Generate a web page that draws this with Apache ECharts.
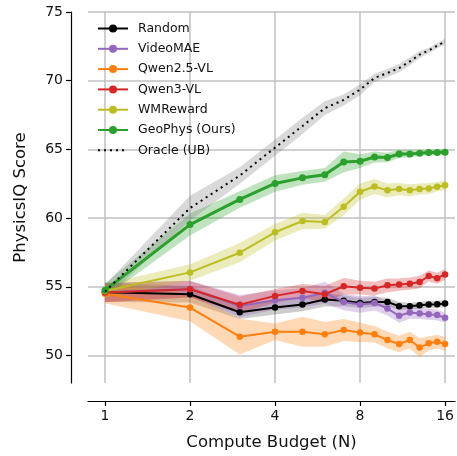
<!DOCTYPE html>
<html>
<head>
<meta charset="utf-8">
<script src="https://cdn.jsdelivr.net/npm/echarts@6/dist/echarts.min.js"></script>
<style>html,body{margin:0;padding:0;background:#fff}#c{width:457px;height:456px}</style>
</head>
<body>
<div id="c"></div>
<script>
// ---- data ----
const budgets = [1,2,3,4,5,6,7,8,9,10,11,12,13,14,15,16];
const xTicks = [1,2,4,8,16];
const yTicks = [50,55,60,65,70,75];
const seriesNames = ['Random','VideoMAE','Qwen2.5-VL','Qwen3-VL','WMReward','GeoPhys (Ours)','Oracle (UB)'];

const randomMean  = [54.6,54.46,53.15,53.49,53.72,54.07,53.98,53.83,53.9,53.9,53.59,53.59,53.66,53.71,53.73,53.78];
const randomStd   = [0.7,0.6,0.5,0.5,0.5,0.5,0.4,0.35,0.35,0.3,0.3,0.25,0.25,0.25,0.25,0.25];
const videoMean   = [54.6,54.85,53.6,54.03,54.2,54.56,53.9,53.71,53.83,53.42,52.89,53.13,53.06,53.01,52.94,52.75];
const videoStd    = [0.7,0.6,0.8,0.7,0.7,0.8,0.6,0.6,0.55,0.5,0.5,0.45,0.4,0.4,0.4,0.35];
const qwen25Mean  = [54.5,53.49,51.37,51.73,51.73,51.54,51.85,51.68,51.54,51.13,50.84,51.13,50.58,50.89,51.01,50.84];
const qwen25Std   = [0.7,1.0,1.3,0.6,1.1,0.9,0.8,0.7,0.6,0.6,0.6,0.6,0.7,0.5,0.5,0.5];
const qwen3Mean   = [54.58,54.82,53.69,54.34,54.7,54.46,55.04,54.94,54.87,55.11,55.16,55.23,55.35,55.79,55.63,55.9];
const qwen3Std    = [0.7,0.6,0.6,0.5,0.5,0.6,0.6,0.5,0.5,0.5,0.45,0.45,0.45,0.4,0.4,0.4];
const wmMean      = [54.7,56.05,57.48,58.97,59.79,59.72,60.83,61.92,62.3,62.02,62.11,62.02,62.12,62.16,62.28,62.4];
const wmStd       = [0.5,0.6,0.7,0.6,0.6,0.5,0.6,0.6,0.55,0.5,0.45,0.45,0.4,0.4,0.35,0.35];
const geoMean     = [54.75,59.53,61.36,62.52,62.93,63.15,64.09,64.14,64.45,64.41,64.67,64.67,64.72,64.77,64.77,64.79];
const geoStd      = [0.5,0.8,0.6,0.6,0.5,0.5,0.75,0.5,0.4,0.35,0.3,0.25,0.2,0.2,0.2,0.2];
const oracleMean  = [54.65,60.73,63.1,65.13,66.7,68.0,68.6,69.35,70.2,70.56,70.92,71.4,71.9,72.2,72.54,72.85];
const oracleStd   = [0.5,0.9,0.6,0.6,0.6,0.5,0.4,0.4,0.3,0.3,0.3,0.3,0.25,0.2,0.2,0.2];

const means = [randomMean, videoMean, qwen25Mean, qwen3Mean, wmMean, geoMean, oracleMean];
const stds  = [randomStd, videoStd, qwen25Std, qwen3Std, wmStd, geoStd, oracleStd];
const colors = ['#000000','#9467bd','#ff7f0e','#d62728','#bcbd22','#2ca02c','#000000'];
const bandColors = ['rgba(0,0,0,0.2)','rgba(148,103,189,0.3)','rgba(255,127,14,0.3)','rgba(214,39,40,0.3)','rgba(188,189,34,0.3)','rgba(44,160,44,0.3)','rgba(128,128,128,0.3)'];

const lx = v => Math.log2(v);
const font = 'DejaVu Sans';

const series = [];
// bands
means.forEach((m, i) => {
  const s = stds[i];
  series.push({
    type: 'custom',
    name: 'band' + i,
    silent: true,
    clip: true,
    z: 1 + i * 0.01,
    data: [0],
    renderItem: function (params, api) {
      const up = [], lo = [];
      for (let k = 0; k < budgets.length; k++) {
        up.push(api.coord([lx(budgets[k]), m[k] + s[k]]));
        lo.unshift(api.coord([lx(budgets[k]), m[k] - s[k]]));
      }
      return { type: 'polygon', shape: { points: up.concat(lo) }, style: { fill: bandColors[i] } };
    }
  });
});
// lines
means.forEach((m, i) => {
  const isOracle = i === 6;
  const isGeo = i === 5;
  series.push({
    type: 'line',
    name: seriesNames[i],
    data: budgets.map((b, k) => [lx(b), m[k]]),
    z: 3 + i * 0.01,
    symbol: 'circle',
    symbolSize: isGeo ? 7 : 6.5,
    showSymbol: !isOracle,
    itemStyle: { color: isOracle ? 'rgba(0,0,0,0)' : colors[i] },
    lineStyle: { color: colors[i], width: isGeo ? 3 : 2, type: isOracle ? [2, 4] : 'solid' },
    emphasis: { disabled: true },
    animation: false
  });
});

const chart = echarts.init(document.getElementById('c'), null, { renderer: 'canvas' });
chart.setOption({
  animation: false,
  backgroundColor: '#fff',
  grid: { left: 88, right: 0, top: 12, bottom: 71, containLabel: false },
  legend: {
    data: seriesNames,
    orient: 'vertical',
    left: 97, top: 22,
    padding: 0,
    itemWidth: 30, itemHeight: 10, itemGap: 7.3,
    textStyle: { fontFamily: font, fontSize: 12.5, color: '#111', padding: [0,0,0,5] },
    selectedMode: false
  },
  xAxis: {
    type: 'value',
    min: -0.2, max: 4.117,
    offset: 18,
    name: 'Compute Budget (N)',
    nameLocation: 'middle',
    nameGap: 33,
    nameTextStyle: { fontFamily: font, fontSize: 16.5, color: '#111' },
    axisLine: { show: true, onZero: false, lineStyle: { color: '#000', width: 1.2 } },
    axisTick: { show: true, length: 5, customValues: xTicks.map(lx), lineStyle: { color: '#000', width: 1.2 } },
    axisLabel: { customValues: xTicks.map(lx), fontFamily: font, fontSize: 14, color: '#111', margin: 8,
      formatter: v => String(Math.round(Math.pow(2, v))) },
    splitLine: { show: true, lineStyle: { color: '#c0c0c0', width: 1.5 } }
  },
  yAxis: {
    type: 'value',
    min: 48, max: 75,
    offset: 17,
    name: 'PhysicsIQ Score',
    nameLocation: 'middle',
    nameGap: 42,
    nameRotate: 90,
    nameTextStyle: { fontFamily: font, fontSize: 16.5, color: '#111' },
    axisLine: { show: true, onZero: false, lineStyle: { color: '#000', width: 1.2 } },
    axisTick: { show: true, length: 5, customValues: yTicks, lineStyle: { color: '#000', width: 1.2 } },
    axisLabel: { customValues: yTicks, fontFamily: font, fontSize: 14, color: '#111', margin: 8 },
    splitLine: { show: true, lineStyle: { color: '#c0c0c0', width: 1.5 } }
  },
  series: series
});
</script>
</body>
</html>
